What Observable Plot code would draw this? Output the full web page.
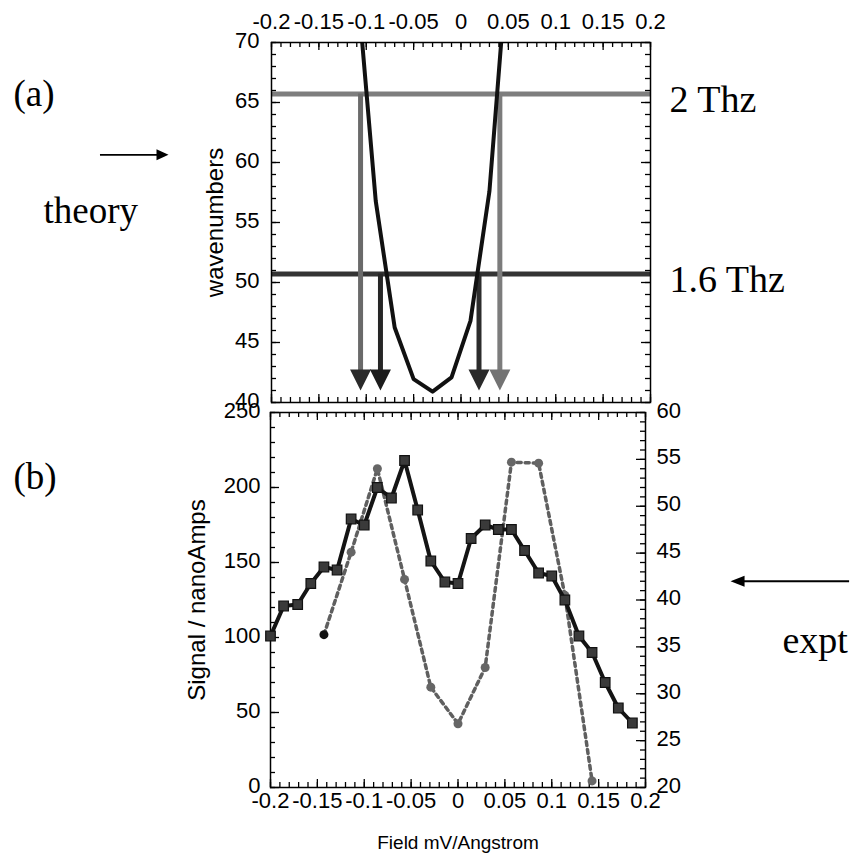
<!DOCTYPE html>
<html><head><meta charset="utf-8">
<script src="https://cdn.jsdelivr.net/npm/d3@7"></script>
<script src="https://cdn.jsdelivr.net/npm/@observablehq/plot@0.6"></script>
<style>
body{margin:0;background:#fff;}
#chart{width:854px;height:856px;position:relative;overflow:hidden;background:#fff;}
#chart svg{display:block;}
</style></head><body><div id="chart"></div>
<script>
// ---------------- data ----------------
const fieldTicks = [-0.2, -0.15, -0.1, -0.05, 0, 0.05, 0.1, 0.15, 0.2];
const wavenumberTicks = [40, 45, 50, 55, 60, 65, 70];
const signalTicks = [0, 50, 100, 150, 200, 250];
const rightTicks = [20, 25, 30, 35, 40, 45, 50, 55, 60];

// (a) theory curve
const theoryField = [-0.11, -0.09, -0.07, -0.05, -0.03, -0.01, 0.01, 0.03, 0.05];
const theoryWavenumber = [75.3, 56.8, 46.25, 41.95, 40.9, 42.1, 46.8, 57.6, 77.6];

// THz levels
const thzLevels = [65.7, 50.7];
const thzLabels = ["2 Thz", "1.6 Thz"];

// vertical arrows
const arrowField = [-0.106, -0.085, 0.019, 0.041];
const arrowFrom = [65.7, 50.7, 50.7, 65.7];
const arrowTip = 41;

// (b) experiment: signal (left axis)
const signalField = [-0.2, -0.186, -0.171, -0.157, -0.143, -0.129, -0.114, -0.1, -0.086, -0.071, -0.057, -0.043, -0.029, -0.014, 0, 0.014, 0.029, 0.043, 0.057, 0.071, 0.086, 0.1, 0.114, 0.129, 0.143, 0.157, 0.171, 0.186];
const signalValues = [101, 121, 122, 136, 147, 145, 179, 175, 200, 193, 218, 185, 151, 137, 136, 166, 175, 172, 172, 158, 143, 141, 125, 101, 90, 70, 53, 43];

// (b) dashed series (right axis)
const dashField = [-0.143, -0.114, -0.086, -0.057, -0.029, 0, 0.029, 0.057, 0.086, 0.114, 0.143];
const dashValues = [36.3, 45.1, 54.0, 42.2, 30.7, 26.8, 32.8, 54.7, 54.6, 40.5, 20.7];

// ---------------- styles / layout ----------------
const thzColors = ["#7e7e7e", "#343434"];
const shaftColors = ["#6a6a6a", "#262626", "#2c2c2c", "#7c7c7c"];
const headColors = ["#2a2a2a", "#1c1c1c", "#2a2a2a", "#737373"];
const SANS = "'Liberation Sans', Arial, Helvetica, sans-serif";
const SERIF = "'Liberation Serif', 'Times New Roman', Times, serif";
const TICK_FONT = 22;

const theory = theoryField.map((x, i) => ({x, y: theoryWavenumber[i]}));
const thz = thzLevels.map((y, i) => ({y, label: thzLabels[i], color: thzColors[i]}));
const arrows = arrowField.map((x, i) => ({x, y1: arrowFrom[i], shaft: shaftColors[i], head: headColors[i]}));
const signal = signalField.map((x, i) => ({x, y: signalValues[i]}));
const rMin = 20, rMax = 60, lMin = 0, lMax = 250;
const toLeft = v => lMin + (v - rMin) * (lMax - lMin) / (rMax - rMin);
const fromLeft = d => rMin + (d - lMin) * (rMax - rMin) / (lMax - lMin);
const dashed = dashField.map((x, i) => ({x, y: toLeft(dashValues[i])}));

const fmt = d => String(d);
const xMinor = d3.range(-20, 21).map(i => i / 100);

function headSymbol(len, wid, dir) {
  return {draw(ctx) {
    if (dir === "down") { ctx.moveTo(0, 0); ctx.lineTo(-wid / 2, -len); ctx.lineTo(wid / 2, -len); }
    else if (dir === "right") { ctx.moveTo(0, 0); ctx.lineTo(-len, -wid / 2); ctx.lineTo(-len, wid / 2); }
    else { ctx.moveTo(0, 0); ctx.lineTo(len, -wid / 2); ctx.lineTo(len, wid / 2); }
    ctx.closePath();
  }};
}
function ticksX(values, len, plotH, edge) {
  return Plot.ruleX(values, {x: d => d, stroke: "black", strokeWidth: 1.3,
    insetTop: edge === "bottom" ? plotH - len : 0,
    insetBottom: edge === "top" ? plotH - len : 0});
}
function ticksY(values, len, plotW, edge) {
  return Plot.ruleY(values, {y: d => d, stroke: "black", strokeWidth: 1.3,
    insetLeft: edge === "right" ? plotW - len : 0,
    insetRight: edge === "left" ? plotW - len : 0});
}

// ---------------- top panel (a) ----------------
const T = {w: 854, h: 403, ml: 271, mr: 204, mt: 42, mb: 1};
const tW = T.w - T.ml - T.mr, tH = T.h - T.mt - T.mb;
const topPlot = Plot.plot({
  width: T.w, height: T.h,
  marginLeft: T.ml, marginRight: T.mr, marginTop: T.mt, marginBottom: T.mb,
  x: {domain: [-0.2, 0.2]},
  y: {domain: [40, 70]},
  style: {fontFamily: SANS, fontSize: "20px", color: "black", background: "transparent", overflow: "visible"},
  marks: [
    Plot.ruleY(thz, {y: "y", stroke: "color", strokeWidth: 5}),
    Plot.ruleX(arrows, {x: "x", y1: "y1", y2: () => arrowTip, stroke: "shaft", strokeWidth: 5, insetBottom: 10}),
    Plot.line(theory, {x: "x", y: "y", stroke: "#111", strokeWidth: 4, clip: true}),
    Plot.dot(arrows, {x: "x", y: () => arrowTip, symbol: headSymbol(21, 21, "down"), fill: "head", stroke: "none", r: 5}),
    Plot.frame({stroke: "black", strokeWidth: 1.5}),
    ticksX(xMinor, 5, tH, "top"), ticksX(fieldTicks, 8, tH, "top"),
    ticksX(xMinor, 5, tH, "bottom"), ticksX(fieldTicks, 8, tH, "bottom"),
    ticksY(d3.range(40, 71), 5, tW, "left"), ticksY(wavenumberTicks, 9, tW, "left"),
    ticksY(d3.range(40, 71), 5, tW, "right"), ticksY(wavenumberTicks, 9, tW, "right"),
    Plot.axisX({anchor: "top", ticks: fieldTicks, tickSize: 0, tickPadding: 14, tickFormat: fmt, fontSize: TICK_FONT, label: null}),
    Plot.axisY({anchor: "left", ticks: wavenumberTicks, tickSize: 0, tickPadding: 12, tickFormat: fmt, fontSize: TICK_FONT, label: null, dy: -2}),
    Plot.text(["wavenumbers"], {text: d => d, frameAnchor: "left", rotate: -90, dx: -56, fontSize: 24, lineAnchor: "middle", textAnchor: "middle"}),
    Plot.text(thz, {y: "y", text: "label", frameAnchor: "right", dx: 19, dy: 18, textAnchor: "start", lineAnchor: "bottom", fontFamily: SERIF, fontSize: 38}),
    Plot.text(["(a)"], {text: d => d, frameAnchor: "top-left", dx: -258, dy: 63, textAnchor: "start", lineAnchor: "bottom", fontFamily: SERIF, fontSize: 37}),
    Plot.text(["theory"], {text: d => d, frameAnchor: "top-left", dx: -228, dy: 180, textAnchor: "start", lineAnchor: "bottom", fontFamily: SERIF, fontSize: 37}),
    Plot.ruleY([60.64], {y: d => d, x1: -0.3805, x2: -0.32, stroke: "black", strokeWidth: 1.8}),
    Plot.dot([60.64], {x: -0.3087, y: d => d, symbol: headSymbol(12, 11, "right"), fill: "black", stroke: "none", r: 5})
  ]
});

// ---------------- bottom panel (b) ----------------
const B = {w: 854, h: 453, ml: 270, mr: 209, mt: 9, mb: 69};
const bW = B.w - B.ml - B.mr, bH = B.h - B.mt - B.mb;
const bottomPlot = Plot.plot({
  width: B.w, height: B.h,
  marginLeft: B.ml, marginRight: B.mr, marginTop: B.mt, marginBottom: B.mb,
  x: {domain: [-0.2, 0.2]},
  y: {domain: [lMin, lMax]},
  style: {fontFamily: SANS, fontSize: "20px", color: "black", background: "transparent", overflow: "visible"},
  marks: [
    Plot.frame({stroke: "black", strokeWidth: 1.5}),
    ticksX(xMinor, 5, bH, "top"), ticksX(fieldTicks, 8, bH, "top"),
    ticksX(xMinor, 5, bH, "bottom"), ticksX(fieldTicks, 8, bH, "bottom"),
    ticksY(d3.range(0, 251, 10), 5, bW, "left"), ticksY(signalTicks, 9, bW, "left"),
    ticksY(d3.range(20, 61).map(toLeft), 5, bW, "right"), ticksY(rightTicks.map(toLeft), 9, bW, "right"),
    Plot.line(dashed, {x: "x", y: "y", stroke: "#5f5f5f", strokeWidth: 3.5, strokeDasharray: "4,4"}),
    Plot.dot(dashed, {x: "x", y: "y", r: 4.5, fill: (d, i) => i === 0 ? "#111" : "#666", stroke: "none"}),
    Plot.line(signal, {x: "x", y: "y", stroke: "#141414", strokeWidth: 4}),
    Plot.dot(signal, {x: "x", y: "y", symbol: "square", r: 5.4, fill: "#3a3a3a", stroke: "#111", strokeWidth: 1.2}),
    Plot.axisX({anchor: "bottom", ticks: fieldTicks, tickSize: 0, tickPadding: 5, tickFormat: fmt, fontSize: TICK_FONT, label: null}),
    Plot.axisY({anchor: "left", ticks: signalTicks, tickSize: 0, tickPadding: 10, tickFormat: fmt, fontSize: TICK_FONT, label: null, dy: -2}),
    Plot.axisY({anchor: "right", ticks: rightTicks.map(toLeft), tickSize: 0, tickPadding: 11, tickFormat: d => String(Math.round(fromLeft(d))), fontSize: TICK_FONT, label: null, dy: -2}),
    Plot.text(["Signal / nanoAmps"], {text: d => d, frameAnchor: "left", rotate: -90, dx: -73, fontSize: 24, lineAnchor: "middle", textAnchor: "middle"}),
    Plot.text(["Field mV/Angstrom"], {text: d => d, frameAnchor: "bottom", dy: 61, fontSize: 19, lineAnchor: "bottom", textAnchor: "middle"}),
    Plot.text(["(b)"], {text: d => d, frameAnchor: "top-left", dx: -257, dy: 76, textAnchor: "start", lineAnchor: "bottom", fontFamily: SERIF, fontSize: 37}),
    Plot.text(["expt"], {text: d => d, frameAnchor: "top-right", dx: 137, dy: 240, textAnchor: "start", lineAnchor: "bottom", fontFamily: SERIF, fontSize: 38}),
    Plot.ruleY([137.5], {y: d => d, x1: 0.3, x2: 0.4177, stroke: "black", strokeWidth: 1.8}),
    Plot.dot([137.5], {x: 0.2907, y: d => d, symbol: headSymbol(14, 11, "left"), fill: "black", stroke: "none", r: 5})
  ]
});

const chart = document.getElementById("chart");
chart.appendChild(topPlot);
chart.appendChild(bottomPlot);
</script>
</body></html>
